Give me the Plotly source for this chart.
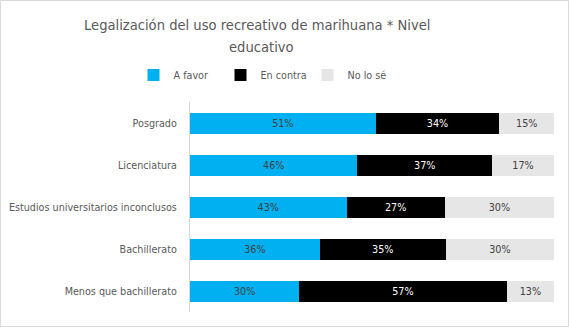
import plotly.graph_objects as go

categories = ["Menos que bachillerato", "Bachillerato", "Estudios universitarios inconclusos", "Licenciatura", "Posgrado"]
a_favor = [30, 36, 43, 46, 51]
en_contra = [57, 35, 27, 37, 34]
no_lo_se = [13, 30, 30, 17, 15]
series_names = ["A favor", "En contra", "No lo sé"]
series_colors = ["#00B0F0", "#000000", "#E7E6E6"]
text_colors = ["#404040", "#FFFFFF", "#404040"]
title_lines = ["Legalización del uso recreativo de marihuana * Nivel", "educativo"]

W, H = 569, 327
L, R, T, B = 190, 15, 102, 15
FONT = "DejaVu Sans Condensed, Liberation Sans, sans-serif"
FS = 10.7

fig = go.Figure()
for name, vals, col, tc in zip(series_names, [a_favor, en_contra, no_lo_se], series_colors, text_colors):
    fig.add_trace(go.Bar(
        y=categories, x=vals, name=name, orientation="h",
        marker=dict(color=col, line=dict(width=0)),
        text=[f"{v}%" for v in vals], textposition="inside",
        insidetextanchor="middle", textangle=0,
        textfont=dict(color=tc, size=FS, family=FONT),
        hoverinfo="skip",
    ))

pw = W - L - R
ph = H - T - B
title_ann = [dict(text=t, xref="paper", yref="paper",
                  x=(xc - L) / pw, xanchor="center",
                  y=1 + (T - yc) / ph, yanchor="middle", showarrow=False,
                  font=dict(size=14.6, color="#595959", family=FONT))
             for t, xc, yc in zip(title_lines, [257, 261], [24, 46])]
fig.update_layout(
    width=W, height=H, barmode="stack", barnorm="percent", bargap=0.5,
    margin=dict(l=L, r=R, t=T, b=B, autoexpand=False),
    paper_bgcolor="white", plot_bgcolor="white",
    font=dict(family=FONT, color="#595959", size=FS),
    annotations=title_ann,
    legend=dict(orientation="h", x=(264 - L) / pw, xanchor="center", y=1 + (102 - 75) / ph, yanchor="middle",
                font=dict(size=FS, color="#595959"), traceorder="normal", itemwidth=30,
                entrywidth=42, entrywidthmode="pixels"),
    xaxis=dict(range=[0, 100], showgrid=False, showticklabels=False, zeroline=False, showline=False,
               fixedrange=True, automargin=False),
    yaxis=dict(showline=True, linecolor="#D9D9D9", linewidth=1, ticks="", ticklabelstandoff=10,
               tickfont=dict(size=FS, color="#595959"), showgrid=False, automargin=False),
    shapes=[dict(type="rect", xref="paper", yref="paper",
                 x0=(0.5 - L) / pw, x1=(W - 0.5 - L) / pw,
                 y0=-(B - 0.5) / ph, y1=1 + (T - 0.5) / ph,
                 line=dict(color="#D9D9D9", width=1), fillcolor="rgba(0,0,0,0)", layer="below")],
)
fig.write_html("out.html")
